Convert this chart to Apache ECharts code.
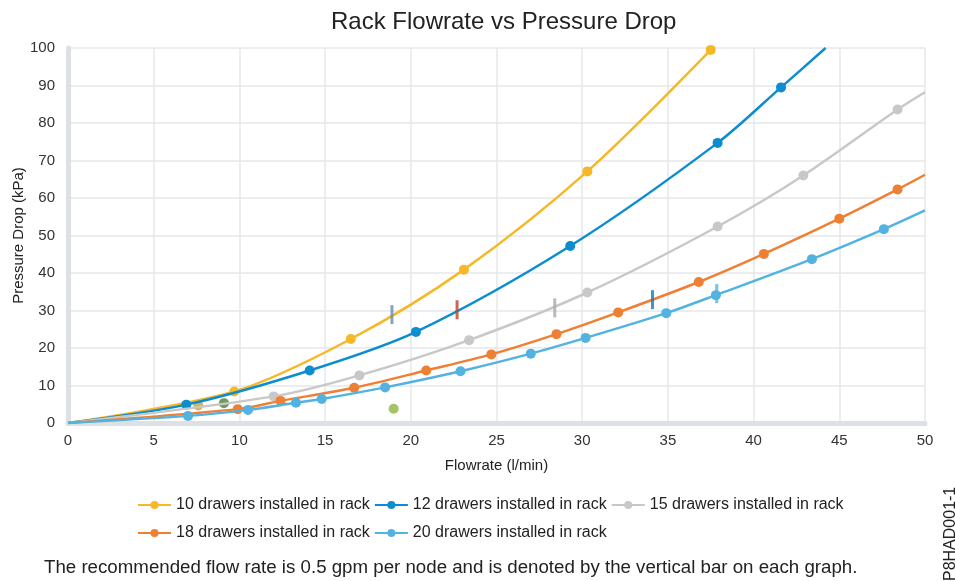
<!DOCTYPE html>
<html>
<head>
<meta charset="utf-8">
<script src="https://cdn.jsdelivr.net/npm/echarts@6/dist/echarts.min.js"></script>
<style>
html,body{margin:0;padding:0;background:#fff;}
#chart{width:955px;height:581px;}
</style>
</head>
<body>
<div id="chart"></div>
<script>
// ---- Data ----
const seriesNames = [
  '10 drawers installed in rack',
  '12 drawers installed in rack',
  '15 drawers installed in rack',
  '18 drawers installed in rack',
  '20 drawers installed in rack'
];
// marked points [flowrate l/min, pressure kPa]; origin is the unmarked start
const drawers10 = [[0,0],[9.7,8.4],[16.5,22.4],[23.1,40.9],[30.3,67.1],[37.5,99.5]];
const drawers12 = [[0,0],[6.9,4.9],[14.1,14.0],[20.3,24.3],[29.3,47.2],[37.9,74.7],[41.6,89.5]];
const drawers15 = [[0,0],[12.0,7.1],[17.0,12.7],[23.4,22.1],[30.3,34.8],[37.9,52.4],[42.9,66.0],[48.4,83.6]];
const drawers18 = [[0,0],[9.9,3.7],[12.4,5.9],[16.7,9.4],[20.9,14.0],[24.7,18.3],[28.5,23.7],[32.1,29.5],[36.8,37.6],[40.6,45.1],[45.0,54.5],[48.4,62.3]];
const drawers20 = [[0,0],[7.0,1.9],[10.5,3.5],[13.3,5.4],[14.8,6.4],[18.5,9.5],[22.9,13.8],[27.0,18.5],[30.2,22.7],[34.9,29.3],[37.8,34.1],[43.4,43.7],[47.6,51.7]];
// where each curve leaves the plot area (no marker)
const curveEnds = [null,[44.2,100],[50,88.2],[50,66.2],[50,56.7]];
// recommended flow (0.5 gpm per node) vertical bars
const recFlow = [18.9,22.7,28.4,34.1,37.85];
const recPressure = [28.9,30.2,30.7,32.9,34.5];
// stray markers present in the reference
const strayFlow = [7.6,9.1,19.0];
const strayPressure = [4.7,5.3,3.8];

const xTicks = {min:0,max:50,step:5};
const yTicks = {min:0,max:100,step:10};

// ---- Styles ----
const colors = ['#f6b826','#0b8dd0','#c8c8c8','#ef7f32','#52b3e2'];
const recColors = ['#6a8cb0','#b8442a','#a9a9a9','#0a7cc8','#52b3e2'];
const strayColors = ['#c9a13c','#4e7f3a','#8cb83e'];
const allData = [drawers10,drawers12,drawers15,drawers18,drawers20];

const FONT = '"Liberation Sans", Arial, sans-serif';

const lineSeries = allData.map(function(d,i){
  const pts = d.map(function(p,j){
    return j === 0 ? {value:p, symbol:'none'} : {value:p};
  });
  if (curveEnds[i]) pts.push({value:curveEnds[i], symbol:'none'});
  return {
    name: seriesNames[i],
    type: 'line',
    data: pts,
    smooth: 0.3,
    symbol: 'circle',
    symbolSize: 10,
    showSymbol: true,
    clip: true,
    lineStyle: {width: 2.5, color: colors[i]},
    itemStyle: {color: colors[i]},
    z: 2 + i
  };
});

const recSeries = {
  type: 'scatter',
  name: 'recommended',
  data: recFlow.map(function(x,i){
    return {value:[x, recPressure[i]], itemStyle:{color: recColors[i]}};
  }),
  symbol: 'rect',
  symbolSize: [3, 19],
  z: 10,
  silent: true
};

const straySeries = {
  type: 'scatter',
  name: 'stray',
  data: strayFlow.map(function(x,i){
    return {value:[x, strayPressure[i]], itemStyle:{color: strayColors[i]}};
  }),
  symbol: 'circle',
  symbolSize: 10,
  z: 1,
  silent: true
};

const legendCommon = {
  orient: 'horizontal',
  itemWidth: 33,
  itemHeight: 10,
  itemGap: 4,
  textStyle: {fontFamily: FONT, fontSize: 16, color: '#222'},
  selectedMode: false
};

const chart = echarts.init(document.getElementById('chart'));
chart.setOption({
  backgroundColor: '#ffffff',
  animation: false,
  title: {
    text: 'Rack Flowrate vs Pressure Drop',
    left: 326,
    top: 5,
    textStyle: {fontFamily: FONT, fontSize: 24, fontWeight: 'normal', color: '#222'}
  },
  legend: [
    Object.assign({}, legendCommon, {left: 132, top: 492, data: seriesNames.slice(0,3)}),
    Object.assign({}, legendCommon, {left: 132, top: 520, data: seriesNames.slice(3)})
  ],
  grid: {left: 68, right: 30, top: 48, bottom: 158, containLabel: false, outerBoundsMode: 'none'},
  xAxis: {
    type: 'value',
    min: xTicks.min, max: xTicks.max, interval: xTicks.step,
    name: 'Flowrate (l/min)',
    nameLocation: 'middle',
    nameGap: 35,
    nameMoveOverlap: false,
    nameTextStyle: {fontFamily: FONT, fontSize: 15, color: '#222'},
    axisLine: {show: true, onZero: false, lineStyle: {color: '#dde0e4', width: 5}},
    axisTick: {show: false},
    axisLabel: {fontFamily: FONT, fontSize: 15, color: '#333', margin: 10},
    splitLine: {show: true, lineStyle: {color: '#e5e7eb', width: 1.5}}
  },
  yAxis: {
    type: 'value',
    min: yTicks.min, max: yTicks.max, interval: yTicks.step,
    name: 'Pressure Drop (kPa)',
    nameLocation: 'middle',
    nameGap: 42,
    nameMoveOverlap: false,
    nameTextStyle: {fontFamily: FONT, fontSize: 15, color: '#222'},
    axisLine: {show: true, onZero: false, lineStyle: {color: '#dde0e4', width: 5}},
    axisTick: {show: false},
    axisLabel: {fontFamily: FONT, fontSize: 15, color: '#333', margin: 13},
    splitLine: {show: true, lineStyle: {color: '#e5e7eb', width: 1.5}}
  },
  graphic: [
    {
      type: 'text',
      left: 44,
      top: 558,
      style: {
        text: 'The recommended flow rate is 0.5 gpm per node and is denoted by the vertical bar on each graph.',
        font: '18.7px "Liberation Sans", Arial, sans-serif',
        fill: '#222'
      }
    },
    {
      type: 'text',
      x: 943,
      y: 581,
      rotation: Math.PI / 2,
      style: {
        text: 'P8HAD001-1',
        font: '16px "Liberation Sans", Arial, sans-serif',
        fill: '#222'
      }
    }
  ],
  series: lineSeries.concat([straySeries, recSeries])
});
</script>
</body>
</html>
